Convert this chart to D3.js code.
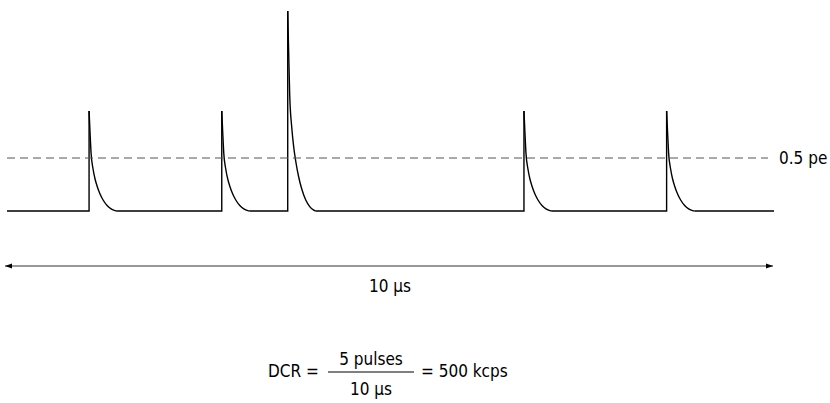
<html lang="en">

<head>
  <meta http-equiv="Content-Type" content="text/html; charset=utf-8" />
  <script src="https://d3js.org/d3.v7.min.js"></script>
  <style>
    body { margin: 0; background: white; }
  </style>
</head>

<body>
  <div id="divId"></div>

  <script>
    'use strict';
    const width = 830;
    const height = 403;
    const fontFamily = "'DejaVu Sans Condensed', 'DejaVu Sans', sans-serif";
    const fontSize = 17;

    // pulse arrival times (µs) and amplitudes (pe)
    const pulseTimes = [1.07, 2.80, 3.66, 6.74, 8.60];
    const pulseAmps = [1, 1, 2, 1, 1];
    // decay of one pulse after its rise: time after rise (µs) and fraction of amplitude
    const decayTimes = [0, 0.013, 0.026, 0.052, 0.078, 0.104, 0.143, 0.183, 0.235, 0.287, 0.339, 0.365];
    const decayFractions = [1, 0.78, 0.58, 0.42, 0.32, 0.25, 0.17, 0.11, 0.055, 0.022, 0.004, 0];

    const threshold = 0.53;
    const thresholdLabel = "0.5 pe";
    const windowLength = 10;
    const windowLabel = "10 µs";
    const pulseCount = "5 pulses";
    const rateLabel = "= 500 kcps";

    const svg = d3.select("#divId")
      .append("svg")
      .attr("width", width)
      .attr("height", height);

    const x = d3.scaleLinear().domain([0, windowLength]).range([7, 774]);
    const y = d3.scaleLinear().domain([0, 1]).range([211, 111]);

    // baseline + rises (straight pieces)
    const linePts = [[0, 0]];
    pulseTimes.forEach((t, i) => {
      linePts.push([t, 0], [t, pulseAmps[i]]);
      linePts.push([null, null]);
      linePts.push([t + decayTimes[decayTimes.length - 1], 0]);
    });
    linePts.push([windowLength, 0]);

    const straight = d3.line()
      .defined(d => d[0] !== null)
      .x(d => x(d[0]))
      .y(d => y(d[1]));

    svg.append("path")
      .attr("d", straight(linePts))
      .attr("fill", "none")
      .attr("stroke", "black")
      .attr("stroke-width", 1.4);

    // decay tails
    const smooth = d3.line()
      .x(d => x(d[0]))
      .y(d => y(d[1]))
      .curve(d3.curveMonotoneX);

    pulseTimes.forEach((t, i) => {
      const pts = decayTimes.map((dt, k) => [t + dt, pulseAmps[i] * decayFractions[k]]);
      svg.append("path")
        .attr("d", smooth(pts))
        .attr("fill", "none")
        .attr("stroke", "black")
        .attr("stroke-width", 1.4);
    });

    // threshold
    svg.append("line")
      .attr("x1", x(0)).attr("x2", x(windowLength) - 6)
      .attr("y1", y(threshold)).attr("y2", y(threshold))
      .attr("stroke", "#555")
      .attr("stroke-width", 1)
      .attr("stroke-dasharray", "8,5");

    svg.append("text")
      .attr("x", 779)
      .attr("y", y(threshold) + 6)
      .style("font-family", fontFamily)
      .style("font-size", fontSize + "px")
      .text(thresholdLabel);

    // time window arrow
    const defs = svg.append("defs");
    defs.append("marker")
      .attr("id", "arrow")
      .attr("viewBox", "0 0 10 10")
      .attr("refX", 10).attr("refY", 5)
      .attr("markerWidth", 7).attr("markerHeight", 7)
      .attr("markerUnits", "userSpaceOnUse")
      .attr("orient", "auto-start-reverse")
      .append("path")
      .attr("d", "M0,1.5 L10,5 L0,8.5 Z")
      .attr("fill", "black");

    svg.append("line")
      .attr("x1", x(0) - 2).attr("x2", x(windowLength) - 1)
      .attr("y1", 266).attr("y2", 266)
      .attr("stroke", "#333")
      .attr("stroke-width", 1.2)
      .attr("marker-start", "url(#arrow)")
      .attr("marker-end", "url(#arrow)");

    svg.append("text")
      .attr("x", 390)
      .attr("y", 292)
      .attr("text-anchor", "middle")
      .style("font-family", fontFamily)
      .style("font-size", fontSize + "px")
      .text(windowLabel);

    // formula
    const f = svg.append("g")
      .style("font-family", fontFamily)
      .style("font-size", fontSize + "px");

    f.append("text").attr("x", 268).attr("y", 377).text("DCR =");
    f.append("line")
      .attr("x1", 328).attr("x2", 414)
      .attr("y1", 372).attr("y2", 372)
      .attr("stroke", "black").attr("stroke-width", 1);
    f.append("text").attr("x", 371).attr("y", 365).attr("text-anchor", "middle").text(pulseCount);
    f.append("text").attr("x", 371).attr("y", 395).attr("text-anchor", "middle").text(windowLabel);
    f.append("text").attr("x", 421).attr("y", 377).text(rateLabel);
  </script>
</body>

</html>
